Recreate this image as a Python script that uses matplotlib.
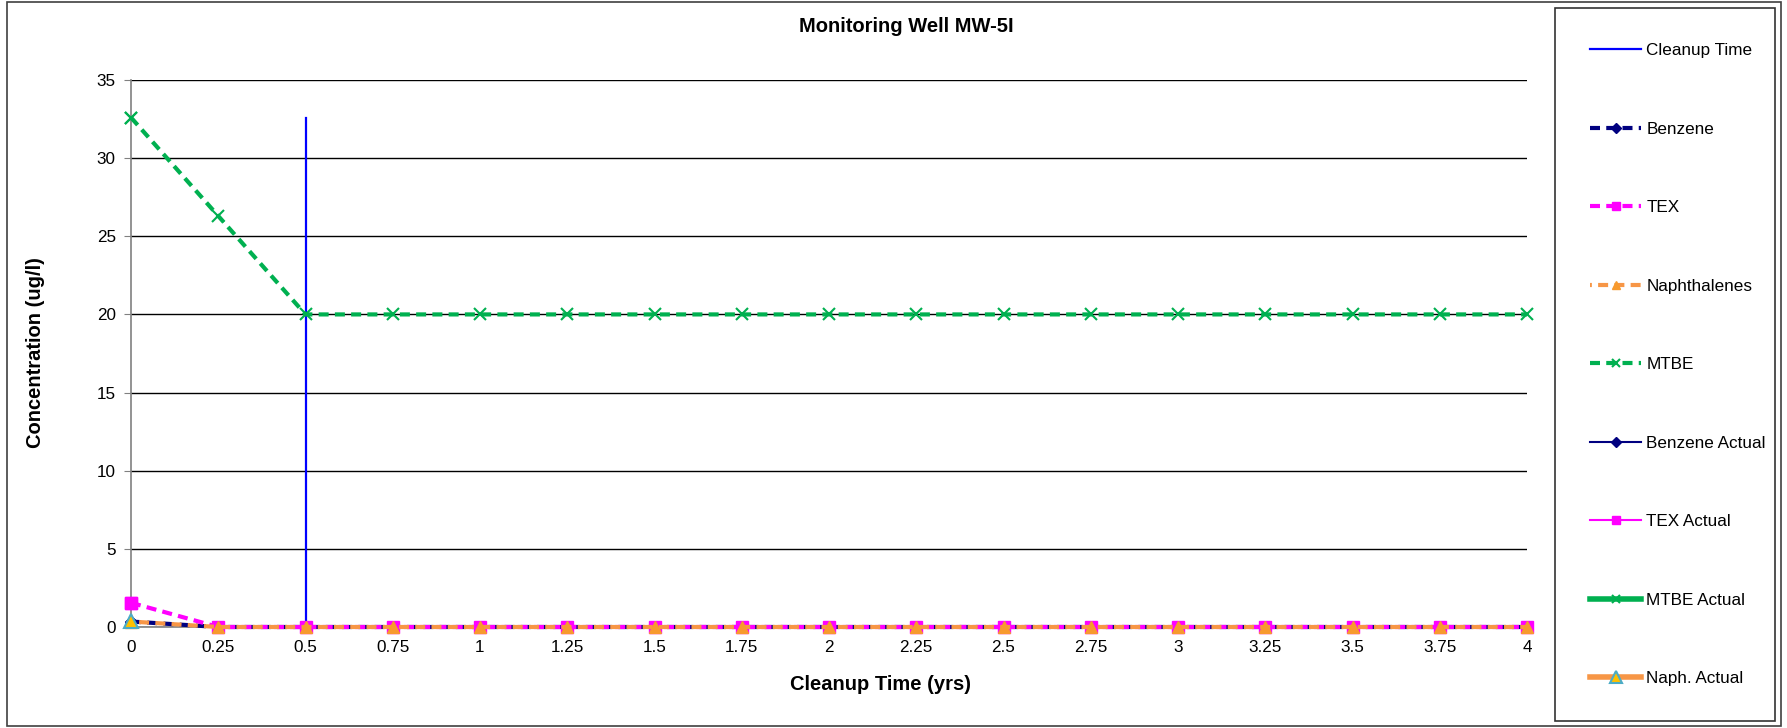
import matplotlib
matplotlib.use("Agg")
import matplotlib.pyplot as plt
from matplotlib.patches import Rectangle

plt.rcParams['font.family'] = ['Liberation Sans', 'DejaVu Sans']

# Cleanup time axis (years)
years = [0, 0.25, 0.5, 0.75, 1, 1.25, 1.5, 1.75, 2, 2.25, 2.5, 2.75, 3,
         3.25, 3.5, 3.75, 4]
tick_labels = ["0", "0.25", "0.5", "0.75", "1", "1.25", "1.5", "1.75", "2",
               "2.25", "2.5", "2.75", "3", "3.25", "3.5", "3.75", "4"]

# Predicted concentrations (ug/l)
benzene = [0.35] + [0.0] * 16
tex = [1.55] + [0.0] * 16
naphthalenes = [0.35] + [0.0] * 16
mtbe = [32.6, 26.3] + [20.0] * 15

# Measured concentrations at time zero
actual_x = [0]
benzene_actual = [0.35]
tex_actual = [1.55]
mtbe_actual = [32.6]
naph_actual = [0.4]

# Cleanup time marker
cleanup_x = [0.5, 0.5]
cleanup_y = [0, 32.6]

NAVY = "#000080"
MAGENTA = "#FF00FF"
ORANGE = "#F79646"
GREEN = "#00B050"
BLUE = "#0000FF"

fig = plt.figure(figsize=(17.87, 7.28), dpi=100)
ax = fig.add_axes([131 / 1787, 1 - 627 / 728, (1527 - 131) / 1787, (627 - 80) / 728])

lw_d = 3.0
dash = (0, (2.4, 1.5))
dash_alt = (1.95, (2.4, 1.5))

h_clean, = ax.plot(cleanup_x, cleanup_y, color=BLUE, lw=1.6, label="Cleanup Time", zorder=3)
h_benz, = ax.plot(years, benzene, color=NAVY, lw=lw_d, ls=dash, marker="D", ms=6,
                  mfc=NAVY, mec=NAVY, label="Benzene", clip_on=False, zorder=4)
h_tex, = ax.plot(years, tex, color=MAGENTA, lw=lw_d, ls=dash, marker="s", ms=8,
                 mfc=MAGENTA, mec=MAGENTA, label="TEX", clip_on=False, zorder=4)
h_naph, = ax.plot(years, naphthalenes, color=ORANGE, lw=lw_d, ls=dash_alt, marker="^", ms=8,
                  mfc="#F79A2E", mec="#F79A2E", label="Naphthalenes", clip_on=False, zorder=5)
h_mtbe, = ax.plot(years, mtbe, color=GREEN, lw=lw_d, ls=dash, marker="x", ms=8, mew=1.5,
                  mfc=GREEN, mec=GREEN, label="MTBE", clip_on=False, zorder=4)

h_ba, = ax.plot(actual_x, benzene_actual, color=NAVY, lw=1.5, marker="D", ms=6,
                label="Benzene Actual", clip_on=False, zorder=6)
h_ta, = ax.plot(actual_x, tex_actual, color=MAGENTA, lw=1.5, marker="s", ms=8,
                label="TEX Actual", clip_on=False, zorder=6)
h_ma, = ax.plot(actual_x, mtbe_actual, color=GREEN, lw=4, marker="x", ms=8, mew=1.5,
                label="MTBE Actual", clip_on=False, zorder=6)
h_na, = ax.plot(actual_x, naph_actual, color=ORANGE, lw=4, marker="^", ms=10,
                mfc="#FFC000", mec="#4BACC6", mew=1.5,
                label="Naph. Actual", clip_on=False, zorder=7)

ax.set_xlim(0, 4)
ax.set_ylim(0, 35)
ax.set_xticks(years)
ax.set_xticklabels(tick_labels)
ax.set_yticks(range(0, 36, 5))
ax.grid(axis="y", color="black", lw=1.0)
ax.set_axisbelow(True)
for s in ("top", "right"):
    ax.spines[s].set_visible(False)
for s in ("left", "bottom"):
    ax.spines[s].set_color("#808080")
    ax.spines[s].set_linewidth(1.2)
ax.tick_params(axis="y", length=5, color="#808080", labelsize=12.3, pad=6)
ax.tick_params(axis="x", length=0, labelsize=12.3, pad=9)

fig.text(906 / 1787, 1 - 27 / 728, "Monitoring Well MW-5I", ha="center", va="center",
         fontsize=14.5, fontweight="bold")
fig.text(881 / 1787, 1 - 684 / 728, "Cleanup Time (yrs)", ha="center", va="center",
         fontsize=14.5, fontweight="bold")
fig.text(36 / 1787, 1 - 353 / 728, "Concentration (ug/l)", ha="center", va="center",
         rotation=90, fontsize=14.5, fontweight="bold")

handles = [h_clean, h_benz, h_tex, h_naph, h_mtbe, h_ba, h_ta, h_ma, h_na]
leg = fig.legend(handles=handles, loc="upper left",
                 bbox_to_anchor=(1555 / 1787, 1 - 716 / 728, (1775 - 1555) / 1787, (716 - 8) / 728),
                 mode="expand", frameon=True, fancybox=False, fontsize=12.3,
                 handlelength=3.0, handletextpad=0.3, labelspacing=3.72,
                 borderaxespad=0, borderpad=2.05, markerscale=0.8)
leg.get_frame().set_edgecolor("black")
leg.get_frame().set_linewidth(1.2)

# Outer chart border
fig.patches.append(Rectangle((7 / 1787, 2 / 728), (1781 - 7) / 1787, (726 - 2) / 728,
                             transform=fig.transFigure, fill=False,
                             edgecolor="#404040", lw=1.2))

fig.savefig("out.png", dpi=100)
